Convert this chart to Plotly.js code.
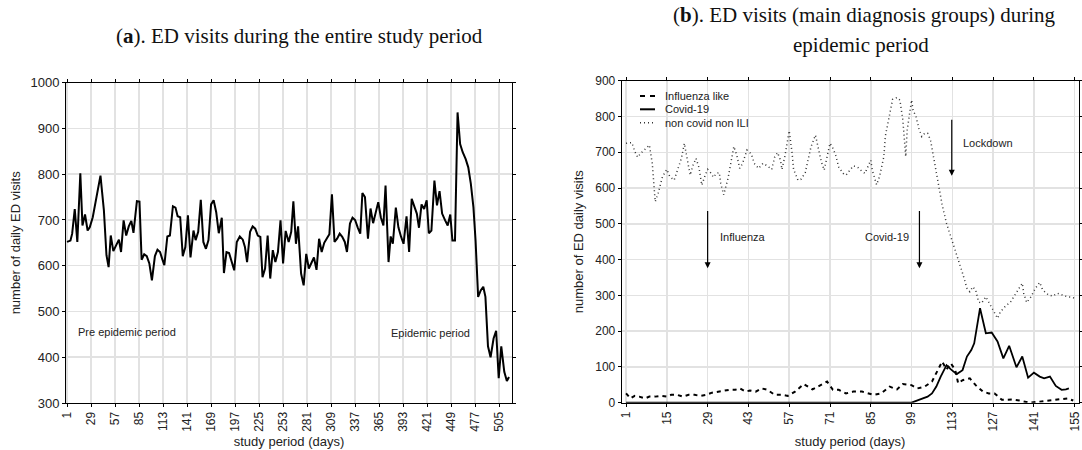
<!DOCTYPE html>
<html><head><meta charset="utf-8">
<script src="https://cdn.plot.ly/plotly-3.0.1.min.js"></script>
<style>html,body{margin:0;padding:0;background:#fff}#chart{width:1082px;height:450px}</style>
</head><body><div id="chart"></div>
<script>
// ---- Panel (a): ED visits during the entire study period ----
const daysA = [
 1,5,7,10,13,16.5,19,22,25,27.5,
 31,35,40,44,47,49.5,52,55,58,61.5,
 64,67,70,73,76,78.5,82.5,85.5,88,91,
 94,97,100,103.5,106.5,109.5,112,114.5,118,121,
 124.5,127.5,130,133,136,139,142,145,148.5,151,
 154,157,160,163,166,169,172,175,178,181.5,
 184,187,190,193.5,196,199,202.5,206,208.5,211,
 214.5,217.5,220.5,223.5,226.5,229,232,235,238,241,
 244,247,250,253,256,259.5,262.5,265,268,270.5,
 274,277,280,283,286,289,292,295,298,301,
 304.5,307,310,313,316,319,322,325,327.5,331,
 334,337,340,343,345.5,348.5,352,355,358,361,
 364,367,370,372.5,376,378.5,381,384.5,387.5,390.5,
 393.5,397,400,403,406,409,411.5,414.5,417.5,420.5,
 423,426,429.5,432.5,435.5,438.5,442,445,448,450.5,
 453.5,456.5,459.5,462.5,466,469,472,475,477.5,480.5,
 483.5,486.5,489,492,495,498.5,501.5,504.5,507.5,511,
 514,516.5];
const visitsA = [
 652,655,670,724,652,802,688,712,677,684,
 706,743,797,721,623,597,666,632,645,657,
 630,699,666,686,698,672,741,740,613,625,
 621,605,568,621,635,630,615,601,664,666,
 730,727,708,706,621,641,710,618,677,656,
 674,744,652,637,656,734,743,717,671,705,
 584,630,628,608,590,652,664,657,641,608,
 674,686,681,666,663,575,594,666,572,634,
 608,630,699,605,676,652,674,741,648,686,
 583,557,626,594,608,618,591,659,630,650,
 661,669,756,652,659,670,663,652,630,692,
 705,700,684,670,759,750,659,725,693,714,
 739,706,688,775,608,664,648,727,684,664,
 648,708,630,746,732,714,683,734,724,743,
 671,677,786,732,763,714,699,688,712,655,
 655,935,866,848,833,815,779,728,655,532,
 546,554,532,424,400,441,458,354,424,368,
 348,357];
const ticksA = [1,29,57,85,113,141,169,197,225,253,281,309,337,365,393,421,449,477,505];

// ---- Panel (b): main diagnosis groups during epidemic period ----
const daysOther = [
 1,3,4,5,6,7.5,9,10,11,12,
 13.5,15,16,17.5,18.5,20,21,22,23,24,
 25,26,27,28,29,30,31,32,33,33.5,
 34.5,36,37,38,39,40,41,42.5,44,45,
 46.5,48,49.5,51,52,53,54,54.5,55.5,56.5,
 57,58,58.5,60,61,62.5,63.5,64.5,66,67,
 68,69,70,71,72,73,74,75.5,76.5,78,
 79,80.5,81.5,83,84,85,85.5,86.5,87,88,
 89.5,90,91.5,92.5,94,95,96,96.5,97,97.5,
 98.5,99,99.5,100.5,101.5,102.5,103.5,104.5,105.5,106.5,
 107.5,108.5,109.5,111,112.5,113.5,115,116.5,118,119,
 120,121,122,123,124.5,125.5,127,128.5,129.5,131,
 133,134.5,135.5,137,137.5,138.5,140,141.5,143,144,
 146,147.5,149,151,152.5,154,155];
const nonCovidNonILI = [
 725,727,702,686,697,708,720,669,562,585,
 632,652,632,622,646,683,725,678,636,664,
 683,658,608,632,652,643,630,641,643,613,
 581,627,669,716,692,655,669,706,695,669,
 655,669,662,652,686,699,678,652,688,734,
 760,697,652,622,624,643,678,716,748,706,
 674,650,688,725,711,690,658,641,636,652,
 662,658,650,641,658,678,650,622,609,632,
 688,745,809,848,853,846,790,725,688,762,
 818,846,818,800,767,744,753,753,734,688,
 646,604,553,501,464,436,399,362,320,310,
 324,315,282,278,296,282,259,236,254,268,
 282,301,315,334,306,280,296,320,336,315,
 301,298,306,301,296,295,292];
const daysILI = [
 1,2.5,4,5.5,7.5,9,11,13,15,16.5,
 18.5,20.5,22.5,24.5,26.5,28.5,30.5,32.5,34.5,36.5,
 38.5,40,42,43.5,45.5,47.5,49.5,52,54.5,56.5,
 59,62,65,68,70,72,74,76.5,79,82,
 84,86,88.5,91.5,94,96,99,101,103.5,106,
 108,109.5,111,112.5,114,115,116.5,119,121,123.5,
 125.5,127.5,130,133.5,136,139.5,143,146.5,150,152.5,
 154.5];
const influenzaLike = [
 26,12,19,17,12,17,17,19,17,22,
 22,17,22,22,19,22,28,31,34,36,
 36,40,31,34,31,40,36,22,22,19,
 31,52,37,49,59,36,36,26,31,31,
 26,22,26,45,37,52,49,40,45,59,
 91,115,93,110,91,54,63,68,49,31,
 26,26,8,9,6,0,3,6,8,12,
 6];
const daysCovid = [
 1,99,101.5,103,104.5,106,107.5,109,111,112.5,
 114.5,116.5,118,119.5,120.5,122.5,124.5,126.5,128.5,130.5,
 132.5,135,137,139,141,143,144.5,146.5,148.5,150.5,
 152,153];
const covid19 = [
 0,0,8,12,17,26,45,73,105,93,
 80,91,129,147,166,264,194,196,171,124,
 159,99,129,70,84,73,68,73,47,36,
 37,40];
const ticksB = [1,15,29,43,57,71,85,99,113,127,141,155];
const seriesNames = ['Influenza like','Covid-19','non covid non ILI'];

// ---- layout helpers (pixel -> paper) ----
const W = 1082, H = 450;
const px = v => v / W, py = v => 1 - v / H;
const SANS = 'Liberation Sans, Arial, sans-serif';
const SERIF = 'Liberation Serif, Times New Roman, serif';
const GRID = '#e2e2e2';
const DOTS = '1px,3px';

const traces = [
  {x: daysA, y: visitsA, xaxis: 'x', yaxis: 'y', type: 'scatter', mode: 'lines',
   line: {color: '#000', width: 2}, showlegend: false},
  {x: daysOther, y: nonCovidNonILI, xaxis: 'x2', yaxis: 'y2', type: 'scatter', mode: 'lines',
   name: seriesNames[2], line: {color: '#333', width: 1.5, dash: DOTS}, showlegend: false},
  {x: daysILI, y: influenzaLike, xaxis: 'x2', yaxis: 'y2', type: 'scatter', mode: 'lines',
   name: seriesNames[0], line: {color: '#000', width: 2, dash: '4px,4px'}, showlegend: false},
  {x: daysCovid, y: covid19, xaxis: 'x2', yaxis: 'y2', type: 'scatter', mode: 'lines',
   name: seriesNames[1], line: {color: '#000', width: 1.8}, showlegend: false}
];

const axisCommon = {
  showgrid: true, gridcolor: GRID, gridwidth: 1.5,
  showline: true, linecolor: '#000', linewidth: 1, mirror: 'ticks',
  ticks: 'outside', ticklen: 3, tickcolor: '#000', tickwidth: 1,
  zeroline: false, tickfont: {family: SANS, size: 12, color: '#222'},
  automargin: false, ticklabeloverflow: 'allow'
};

const layout = {
  width: W, height: H, margin: {l: 0, r: 0, t: 0, b: 0},
  paper_bgcolor: '#fff', plot_bgcolor: '#fff', showlegend: false,
  font: {family: SANS, color: '#222'},
  xaxis: Object.assign({}, axisCommon, {
    domain: [px(66), px(512)], range: [-0.2, 520], anchor: 'y',
    tickmode: 'array', tickvals: ticksA, ticktext: ticksA.map(String), tickangle: -90,
    title: {text: 'study period (days)', font: {family: SANS, size: 13, color: '#222'}, standoff: 6}
  }),
  yaxis: Object.assign({}, axisCommon, {
    domain: [py(403), py(82.7)], range: [300, 1000], dtick: 100, anchor: 'x',
    tickfont: {family: SANS, size: 13, color: '#222'},
    title: {text: 'number of daily ED visits', font: {family: SANS, size: 13, color: '#222'}, standoff: 6}
  }),
  xaxis2: Object.assign({}, axisCommon, {
    domain: [px(621.7), px(1078.5)], range: [-0.5, 156.3], anchor: 'y2',
    tickmode: 'array', tickvals: ticksB, ticktext: ticksB.map(String), tickangle: -90,
    title: {text: 'study period (days)', font: {family: SANS, size: 13, color: '#222'}, standoff: 6}
  }),
  yaxis2: Object.assign({}, axisCommon, {
    domain: [py(402.7), py(80.7)], range: [0, 900], dtick: 100, anchor: 'x2',
    title: {text: 'number of ED daily visits', font: {family: SANS, size: 13, color: '#222'}, standoff: 8}
  }),
  shapes: [
    {type: 'line', xref: 'paper', yref: 'paper', x0: px(640), x1: px(655), y0: py(96), y1: py(96),
     line: {color: '#000', width: 2, dash: '5px,5px'}},
    {type: 'line', xref: 'paper', yref: 'paper', x0: px(640), x1: px(655), y0: py(109.3), y1: py(109.3),
     line: {color: '#000', width: 2}},
    {type: 'line', xref: 'paper', yref: 'paper', x0: px(640), x1: px(655), y0: py(122.7), y1: py(122.7),
     line: {color: '#333', width: 1.5, dash: DOTS}}
  ],
  annotations: [
    {xref: 'paper', yref: 'paper', x: px(299), y: py(36), xanchor: 'center', yanchor: 'middle', showarrow: false,
     text: '(<b>a</b>). ED visits during the entire study period', font: {family: SERIF, size: 21, color: '#111'}},
    {xref: 'paper', yref: 'paper', x: px(864), y: py(15), xanchor: 'center', yanchor: 'middle', showarrow: false,
     text: '(<b>b</b>). ED visits (main diagnosis groups) during', font: {family: SERIF, size: 21, color: '#111'}},
    {xref: 'paper', yref: 'paper', x: px(861), y: py(45), xanchor: 'center', yanchor: 'middle', showarrow: false,
     text: 'epidemic period', font: {family: SERIF, size: 21, color: '#111'}},
    // panel (a) period labels
    {xref: 'x', yref: 'y', x: 11.5, y: 456, xanchor: 'left', yanchor: 'middle', showarrow: false,
     text: 'Pre epidemic period', font: {family: SANS, size: 11, color: '#222'}},
    {xref: 'x', yref: 'y', x: 376.6, y: 453, xanchor: 'left', yanchor: 'middle', showarrow: false,
     text: 'Epidemic period', font: {family: SANS, size: 11, color: '#222'}},
    // panel (b) legend text
    {xref: 'paper', yref: 'paper', x: px(662.7), y: py(96), xanchor: 'left', yanchor: 'middle', showarrow: false,
     text: seriesNames[0], font: {family: SANS, size: 11, color: '#222'}},
    {xref: 'paper', yref: 'paper', x: px(662.7), y: py(109.3), xanchor: 'left', yanchor: 'middle', showarrow: false,
     text: seriesNames[1], font: {family: SANS, size: 11, color: '#222'}},
    {xref: 'paper', yref: 'paper', x: px(662.7), y: py(122.7), xanchor: 'left', yanchor: 'middle', showarrow: false,
     text: seriesNames[2], font: {family: SANS, size: 11, color: '#222'}},
    // panel (b) arrows
    {xref: 'x2', yref: 'y2', axref: 'x2', ayref: 'y2', x: 29, y: 376, ax: 29, ay: 540, text: '',
     showarrow: true, arrowhead: 2, arrowsize: 1, arrowwidth: 1.2, arrowcolor: '#000', standoff: 0},
    {xref: 'x2', yref: 'y2', axref: 'x2', ayref: 'y2', x: 101.7, y: 376, ax: 101.7, ay: 540, text: '',
     showarrow: true, arrowhead: 2, arrowsize: 1, arrowwidth: 1.2, arrowcolor: '#000', standoff: 0},
    {xref: 'x2', yref: 'y2', axref: 'x2', ayref: 'y2', x: 112.8, y: 634, ax: 112.8, ay: 795, text: '',
     showarrow: true, arrowhead: 2, arrowsize: 1, arrowwidth: 1.2, arrowcolor: '#000', standoff: 0},
    {xref: 'x2', yref: 'y2', x: 32.6, y: 462, xanchor: 'left', yanchor: 'middle', showarrow: false,
     text: 'Influenza', font: {family: SANS, size: 11, color: '#222'}},
    {xref: 'x2', yref: 'y2', x: 98.7, y: 462, xanchor: 'right', yanchor: 'middle', showarrow: false,
     text: 'Covid-19', font: {family: SANS, size: 11, color: '#222'}},
    {xref: 'x2', yref: 'y2', x: 115.8, y: 727, xanchor: 'left', yanchor: 'middle', showarrow: false,
     text: 'Lockdown', font: {family: SANS, size: 11, color: '#222'}}
  ]
};

Plotly.newPlot('chart', traces, layout, {displayModeBar: false, staticPlot: true});
</script>
</body></html>
